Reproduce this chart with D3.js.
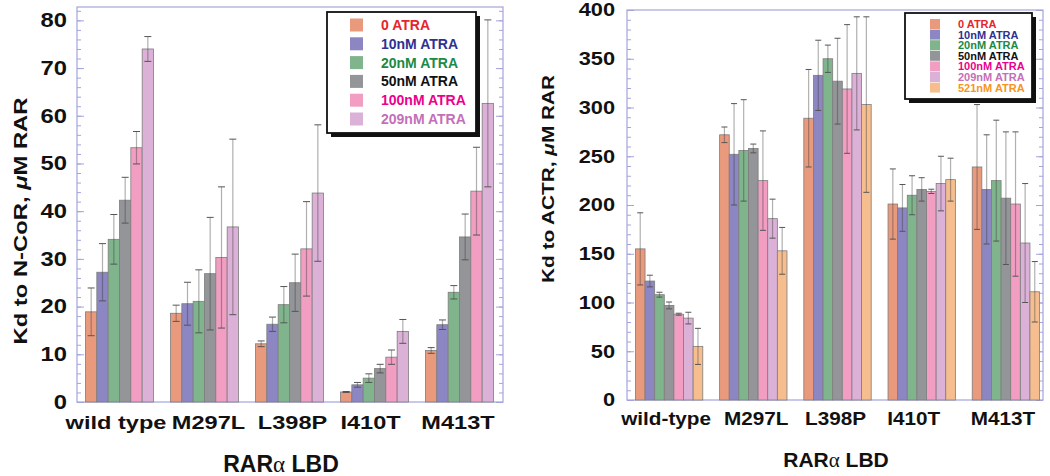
<!DOCTYPE html>
<html lang="en">
<head>
<meta charset="UTF-8">
<title>Kd of RARa LBD mutants to N-CoR and ACTR</title>
<script src="https://d3js.org/d3.v7.min.js"></script>
<style>
  body { margin: 0; background: #fff; }
  svg { display: block; font-family: "Liberation Sans", Arial, sans-serif; font-weight: bold; }
  .frame { fill: none; stroke: #a4a4dc; stroke-width: 1.2; }
  .axis line { stroke: #a4a4dc; }
  .axis path { display: none; }
  .axis text { font-family: "Liberation Sans", Arial, sans-serif; font-weight: bold; fill: #111; }
  .bar { stroke: #7d7d7d; stroke-width: 0.8; }
</style>
</head>
<body>
<div id="chart"></div>
<script>
// ---- data ----
const ncorMutants = ["wild type", "M297L", "L398P", "I410T", "M413T"];
const actrMutants = ["wild-type", "M297L", "L398P", "I410T", "M413T"];
const atraLabels = ["0 ATRA", "10nM ATRA", "20nM ATRA", "50nM ATRA", "100nM ATRA", "209nM ATRA", "521nM ATRA"];

// Kd to N-CoR (uM RAR), one row per mutant, columns = 0..209nM ATRA
const ncorKd = [
  [18.9, 27.2, 34.1, 42.3, 53.3, 74.0],
  [18.6, 20.6, 21.1, 26.9, 30.3, 36.7],
  [12.2, 16.3, 20.4, 25.0, 32.1, 43.8],
  [2.1, 3.6, 5.0, 7.0, 9.4, 14.8],
  [10.8, 16.2, 23.0, 34.6, 44.2, 62.6]
];
const ncorErr = [
  [5.0, 6.0, 5.2, 4.8, 3.4, 2.6],
  [1.7, 4.5, 6.6, 11.8, 14.8, 18.4],
  [0.6, 1.5, 3.8, 6.0, 9.9, 14.3],
  [0.1, 0.5, 0.9, 0.9, 1.5, 2.5],
  [0.6, 1.0, 1.4, 4.8, 9.2, 17.5]
];

// Kd to ACTR (uM RAR), columns = 0..521nM ATRA
const actrKd = [
  [155, 122, 108, 97, 88, 84, 55],
  [272, 252, 256, 258, 225, 186, 153],
  [289, 333, 350, 327, 319, 335, 303],
  [201, 197, 210, 216, 214, 222, 226],
  [239, 216, 225, 207, 201, 161, 111]
];
const actrErr = [
  [37, 6, 2.5, 3.5, 1, 6, 18.5],
  [8, 52, 52, 4.5, 51, 20, 24],
  [50, 36, 14, 44, 66, 58, 90],
  [36, 24, 20, 12, 2.2, 28, 22],
  [64, 56, 62, 68, 74, 61, 31]
];

const barColors = ["#e99a7c", "#8c86c2", "#80b48c", "#949599", "#f29ec2", "#dbb1d7", "#f6be8f"];
const textColors = ["#e4262b", "#2e3192", "#1b8a45", "#111111", "#ec008c", "#c46fb8", "#f7941d"];

const svg = d3.select("#chart").append("svg")
  .attr("width", 1050)
  .attr("height", 476);

function drawPanel(opt) {
  const g = svg.append("g");
  const nSeries = opt.values[0].length;

  const x0 = d3.scaleBand()
    .domain(opt.categories)
    .range(opt.xRange)
    .paddingInner(0.2)
    .paddingOuter(0.1);
  const x1 = d3.scaleBand()
    .domain(d3.range(nSeries))
    .range([0, x0.bandwidth()]);
  const y = d3.scaleLinear()
    .domain(opt.yDomain)
    .range([opt.frame.bottom, opt.frame.top]);

  // minor + major ticks, left side pointing in
  g.append("g").attr("class", "axis")
    .attr("transform", `translate(${opt.frame.left},0)`)
    .call(d3.axisLeft(y).tickValues(d3.range(0, opt.yDomain[1] + 0.001, opt.minor)).tickSize(-4).tickFormat(""));
  g.append("g").attr("class", "axis")
    .attr("transform", `translate(${opt.frame.left},0)`)
    .call(d3.axisLeft(y).tickValues(d3.range(0, opt.yMax + 0.001, opt.major)).tickSize(-7))
    .selectAll("text")
    .style("font-size", opt.tickFont + "px")
    .attr("x", 0)
    .attr("transform", `translate(${-opt.labelPad},0) scale(${opt.tickStretch},1)`);
  // right side ticks pointing in
  g.append("g").attr("class", "axis")
    .attr("transform", `translate(${opt.frame.right},0)`)
    .call(d3.axisRight(y).tickValues(d3.range(0, opt.yDomain[1] + 0.001, opt.minor)).tickSize(-4).tickFormat(""));
  g.append("g").attr("class", "axis")
    .attr("transform", `translate(${opt.frame.right},0)`)
    .call(d3.axisRight(y).tickValues(d3.range(0, opt.yMax + 0.001, opt.major)).tickSize(-7).tickFormat(""));

  g.append("rect").attr("class", "frame")
    .attr("x", opt.frame.left).attr("y", opt.frame.top)
    .attr("width", opt.frame.right - opt.frame.left)
    .attr("height", opt.frame.bottom - opt.frame.top);

  // bars
  const groups = g.selectAll(".grp")
    .data(opt.categories)
    .join("g")
    .attr("transform", d => `translate(${x0(d)},0)`);

  const cells = (d, i) => opt.values[i].map((v, j) => ({ v, j, e: opt.errors[i][j] }));

  groups.selectAll("rect")
    .data(cells)
    .join("rect")
    .attr("class", "bar")
    .attr("x", d => x1(d.j))
    .attr("y", d => y(d.v))
    .attr("width", x1.bandwidth())
    .attr("height", d => y(0) - y(d.v))
    .attr("fill", d => barColors[d.j]);

  // error bars
  const eb = groups.selectAll(".err")
    .data(cells)
    .join("g")
    .attr("transform", d => `translate(${x1(d.j) + x1.bandwidth() / 2},0)`);
  eb.append("line")
    .attr("y1", d => y(d.v + d.e)).attr("y2", d => y(d.v - d.e))
    .attr("stroke", "#3a3a3a").attr("stroke-opacity", 0.4).attr("stroke-width", 1.2);
  [1, -1].forEach(s => {
    eb.append("line")
      .attr("x1", -opt.cap).attr("x2", opt.cap)
      .attr("y1", d => y(d.v + s * d.e)).attr("y2", d => y(d.v + s * d.e))
      .attr("stroke", "#555").attr("stroke-width", 1);
  });

  // category labels (slightly stretched like the original figure)
  g.selectAll(".cat")
    .data(opt.categories)
    .join("text")
    .attr("transform", (d, i) =>
      `translate(${x0(d) + x0.bandwidth() / 2 + opt.catShift[i]},${opt.catY}) scale(${opt.catStretch},1)`)
    .attr("text-anchor", "middle")
    .style("font-size", opt.catFont + "px")
    .attr("fill", "#111")
    .text(d => d);

  // x title
  const xt = g.append("text")
    .attr("x", opt.xTitle[0]).attr("y", opt.xTitle[1])
    .attr("text-anchor", "middle")
    .style("font-size", opt.xTitleFont + "px")
    .attr("fill", "#111");
  xt.append("tspan").text("RAR");
  xt.append("tspan").style("font-family", "'Liberation Serif', serif").style("font-weight", "normal").text("α");
  xt.append("tspan").text(" LBD");

  // y title
  const yt = g.append("text")
    .attr("transform", `translate(${opt.yTitle[0]},${opt.yTitle[1]}) rotate(-90)`)
    .attr("text-anchor", "middle")
    .attr("dy", "0.35em")
    .attr("textLength", opt.yTitleLen)
    .attr("lengthAdjust", "spacingAndGlyphs")
    .style("font-size", opt.yTitleFont + "px")
    .attr("fill", "#111");
  yt.append("tspan").text(opt.yTitleText);
  yt.append("tspan").style("font-style", "italic").text("μ");
  yt.append("tspan").text("M RAR");

  // legend with drop shadow
  const L = opt.legend;
  const lg = g.append("g");
  lg.append("rect")
    .attr("x", L.x + 4).attr("y", L.y + 4).attr("width", L.w).attr("height", L.h)
    .attr("fill", "#111");
  lg.append("rect")
    .attr("x", L.x).attr("y", L.y).attr("width", L.w).attr("height", L.h)
    .attr("fill", "#fff").attr("stroke", "#111").attr("stroke-width", 1.8);
  const rows = lg.selectAll(".row")
    .data(d3.range(nSeries))
    .join("g")
    .attr("transform", j => `translate(0,${L.y + L.first + j * L.step})`);
  rows.append("rect")
    .attr("x", L.swX).attr("y", -L.sw / 2)
    .attr("width", L.sw).attr("height", L.sw)
    .attr("fill", j => barColors[j]);
  rows.append("text")
    .attr("x", L.txX).attr("dy", "0.36em")
    .style("font-size", L.font + "px")
    .attr("fill", j => textColors[j])
    .text(j => atraLabels[j]);
}

drawPanel({
  categories: ncorMutants,
  values: ncorKd,
  errors: ncorErr,
  xRange: [77, 502],
  frame: { left: 77, right: 503, top: 7, bottom: 402 },
  yDomain: [0, 82.8],
  yMax: 80,
  major: 10,
  minor: 2,
  labelPad: 10,
  tickFont: 19.5,
  tickStretch: 1.22,
  cap: 3.5,
  catY: 428.5,
  catFont: 19,
  catStretch: 1.24,
  catShift: [-3.5, 4, 3, -4, -1.5],
  xTitle: [281, 472],
  xTitleFont: 23,
  yTitle: [20, 221],
  yTitleText: "Kd to N-CoR, ",
  yTitleLen: 247,
  yTitleFont: 19,
  legend: { x: 327, y: 12, w: 149, h: 121, first: 13, step: 18.8, swX: 350, sw: 13, txX: 381, font: 14 }
});

drawPanel({
  categories: actrMutants,
  values: actrKd,
  errors: actrErr,
  xRange: [627, 1048],
  frame: { left: 627, right: 1043, top: 10, bottom: 400 },
  yDomain: [0, 400],
  yMax: 400,
  major: 50,
  minor: 10,
  labelPad: 12,
  tickFont: 18.6,
  tickStretch: 1.17,
  cap: 3,
  catY: 425,
  catFont: 18.5,
  catStretch: 1.12,
  catShift: [-3, 3, -2, -8, -3],
  xTitle: [836, 467],
  xTitleFont: 21,
  yTitle: [548, 179],
  yTitleText: "Kd to ACTR, ",
  yTitleLen: 208,
  yTitleFont: 17,
  legend: { x: 905, y: 13, w: 127, h: 86, first: 11, step: 10.6, swX: 930, sw: 10, txX: 958, font: 11 }
});
</script>
</body>
</html>
